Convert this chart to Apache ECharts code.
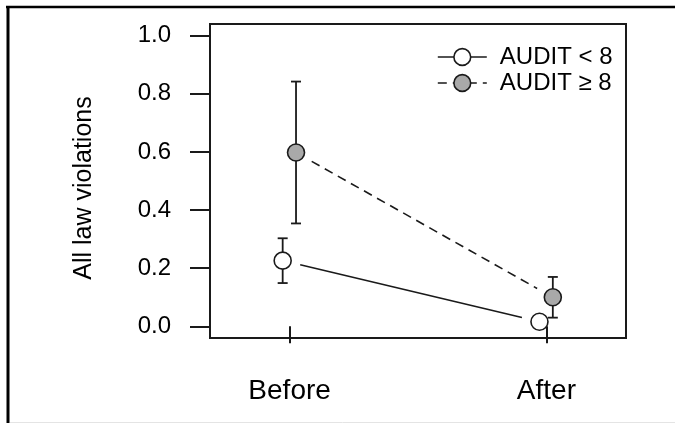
<!DOCTYPE html>
<html>
<head>
<meta charset="utf-8">
<script src="https://cdn.jsdelivr.net/npm/echarts@6/dist/echarts.min.js"></script>
<style>
html,body{margin:0;padding:0;background:#fff;}
#chart{width:675px;height:423px;}
</style>
</head>
<body>
<div id="chart"></div>
<script>
// ---- data ----
const categories = ['Before', 'After'];
const groupNames = ['AUDIT < 8', 'AUDIT \u2265 8'];
const meanUnder8 = [0.226, 0.016];
const errUnder8 = [0.077, 0.006];
const meanOver8 = [0.598, 0.100];
const errOver8 = [0.244, 0.070];
const yTicks = [0, 0.2, 0.4, 0.6, 0.8, 1.0];
const xTicks = [1, 2];

// ---- build ----
const FONT = '"Liberation Sans", Arial, sans-serif';
const INK = '#1a1a1a';
const dodge = [-0.027, 0.025];
const fills = ['#ffffff', '#a9a9a9'];
const dashes = ['solid', [9, 6]];
const means = [meanUnder8, meanOver8];
const errs = [errUnder8, errOver8];

function pts(g) { return xTicks.map((x, i) => [x + dodge[g], means[g][i]]); }

const series = [];
const legendData = [];
for (let g = 0; g < 2; g++) {
  const p = pts(g);
  // connecting line with gaps (R type = "b")
  series.push({
    type: 'custom',
    name: groupNames[g] + ' line',
    data: [[p[0][0], p[0][1], p[1][0], p[1][1]]],
    z: 2,
    silent: true,
    renderItem: function (params, api) {
      const a = api.coord([api.value(0), api.value(1)]);
      const b = api.coord([api.value(2), api.value(3)]);
      const dx = b[0] - a[0], dy = b[1] - a[1];
      const len = Math.sqrt(dx * dx + dy * dy);
      const gap = 18;
      const ux = dx / len, uy = dy / len;
      return {
        type: 'line',
        shape: { x1: a[0] + ux * gap, y1: a[1] + uy * gap, x2: b[0] - ux * gap, y2: b[1] - uy * gap },
        style: { stroke: INK, lineWidth: 1.6, lineDash: dashes[g] === 'solid' ? null : dashes[g] }
      };
    }
  });
  // error bars
  series.push({
    type: 'custom',
    name: groupNames[g] + ' err',
    data: p.map((q, i) => [q[0], q[1] - errs[g][i], q[1] + errs[g][i]]),
    z: 3,
    silent: true,
    renderItem: function (params, api) {
      const x = api.value(0);
      const lo = api.coord([x, api.value(1)]);
      const hi = api.coord([x, api.value(2)]);
      const w = 5;
      const st = { stroke: INK, lineWidth: 1.8 };
      return {
        type: 'group',
        children: [
          { type: 'line', shape: { x1: lo[0], y1: lo[1], x2: hi[0], y2: hi[1] }, style: st },
          { type: 'line', shape: { x1: lo[0] - w, y1: lo[1], x2: lo[0] + w, y2: lo[1] }, style: st },
          { type: 'line', shape: { x1: hi[0] - w, y1: hi[1], x2: hi[0] + w, y2: hi[1] }, style: st }
        ]
      };
    }
  });
  // points
  series.push({
    type: 'line',
    name: groupNames[g],
    data: p,
    z: 5,
    symbol: 'circle',
    symbolSize: 17,
    showSymbol: true,
    itemStyle: { color: fills[g], borderColor: INK, borderWidth: 1.6 },
    lineStyle: { opacity: 0, width: 0 },
    silent: true
  });
  legendData.push({
    name: groupNames[g],
    itemStyle: { color: fills[g], borderColor: INK, borderWidth: 1.6 },
    lineStyle: { color: INK, width: 1.6, type: dashes[g], opacity: 1 }
  });
}

const chart = echarts.init(document.getElementById('chart'), null, { renderer: 'canvas' });
chart.setOption({
  animation: false,
  backgroundColor: '#ffffff',
  textStyle: { fontFamily: FONT },
  grid: { left: 210, right: 49, top: 24, bottom: 85, show: true, borderColor: INK, borderWidth: 2 },
  legend: {
    orient: 'vertical',
    left: 432,
    top: 40,
    itemWidth: 49,
    itemHeight: 21,
    itemGap: 2,
    selectedMode: false,
    data: legendData,
    textStyle: { fontFamily: FONT, fontSize: 24, color: '#000', padding: [0, 0, 0, 8] }
  },
  xAxis: {
    type: 'value',
    min: 0.69,
    max: 2.31,
    splitLine: { show: false },
    axisLine: { show: false },
    axisTick: { show: true, length: 17, customValues: xTicks, lineStyle: { color: INK, width: 2 } },
    axisLabel: {
      customValues: xTicks,
      margin: 39,
      fontSize: 28,
      color: '#000',
      fontFamily: FONT,
      formatter: v => categories[Math.round(v) - 1]
    }
  },
  yAxis: {
    type: 'value',
    min: -0.04,
    max: 1.04,
    name: 'All law violations',
    nameLocation: 'middle',
    nameGap: 113,
    nameRotate: 90,
    nameTextStyle: { fontSize: 25, color: '#000', fontFamily: FONT, padding: [0, 14, 0, 0] },
    splitLine: { show: false },
    axisLine: { show: false },
    axisTick: { show: true, length: 20, customValues: yTicks, lineStyle: { color: INK, width: 2 } },
    axisLabel: {
      customValues: yTicks,
      margin: 39,
      fontSize: 24,
      color: '#000',
      fontFamily: FONT,
      formatter: v => v.toFixed(1)
    }
  },
  graphic: [
    { type: 'line', shape: { x1: 6, y1: 7, x2: 675, y2: 7 }, style: { stroke: '#000', lineWidth: 2.5 }, silent: true },
    { type: 'line', shape: { x1: 8, y1: 6, x2: 8, y2: 423 }, style: { stroke: '#000', lineWidth: 3 }, silent: true },
    { type: 'line', shape: { x1: 10, y1: 422.5, x2: 675, y2: 422.5 }, style: { stroke: '#e4e4e4', lineWidth: 1 }, silent: true }
  ],
  series: series
});
</script>
</body>
</html>
